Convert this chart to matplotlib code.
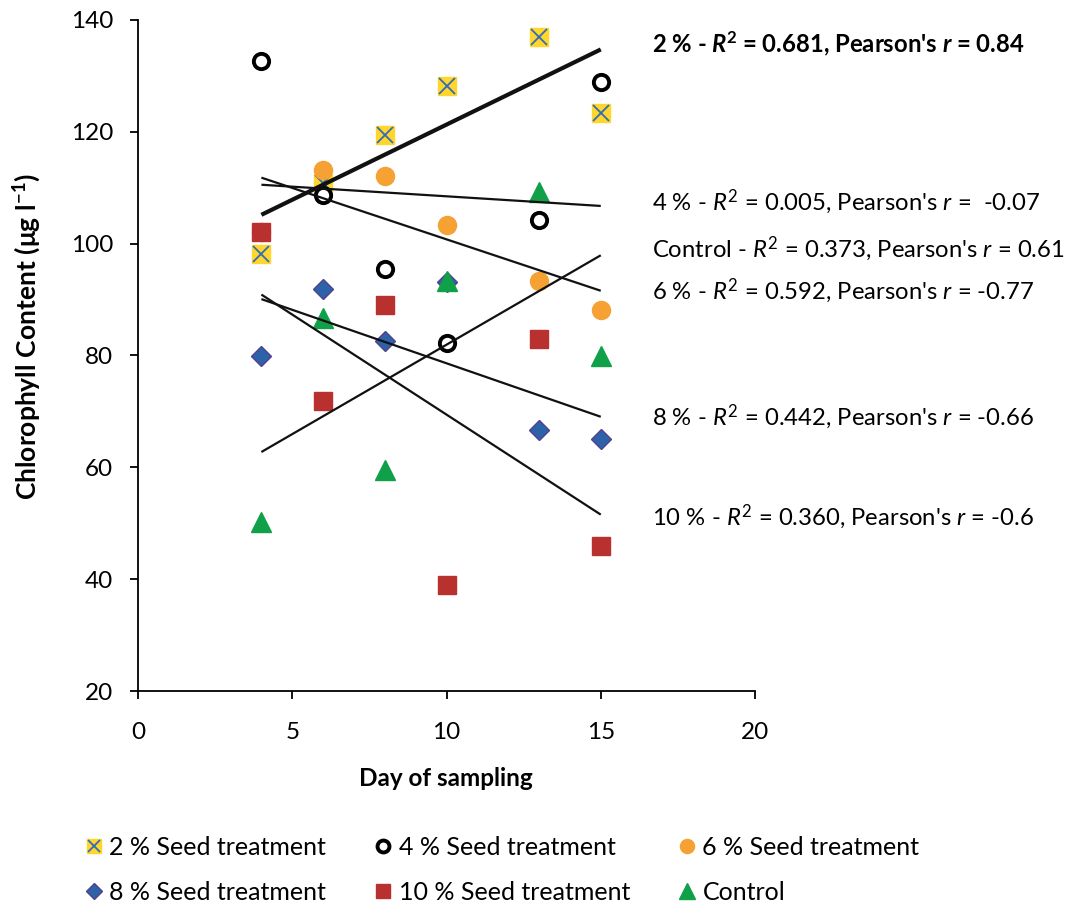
import numpy as np
import matplotlib
matplotlib.use("Agg")
import matplotlib.pyplot as plt

plt.rcParams.update({
    'font.family': ['Lato', 'DejaVu Sans'],
    'mathtext.fontset': 'custom',
    'mathtext.rm': 'Lato',
    'mathtext.it': 'Lato:italic',
    'mathtext.bf': 'Lato:bold',
    'mathtext.bfit': 'Lato:bold:italic',
})

# sampling days and chlorophyll readings (ug/l) per treatment
days = np.array([4, 6, 8, 10, 13, 15])
seed_2 = np.array([98.2, 110.8, 119.4, 128.2, 137.0, 123.4])
seed_4 = np.array([132.7, 108.7, 95.5, 82.2, 104.2, 128.9])
seed_6 = np.array([102.0, 113.2, 112.1, 103.3, 93.3, 88.1])
seed_8 = np.array([79.9, 91.9, 82.6, 93.1, 66.7, 65.1])
seed_10 = np.array([102.1, 71.9, 89.0, 39.0, 83.0, 45.9])
control = np.array([50.2, 86.7, 59.5, 93.3, 109.2, 79.9])

fit_labels = [
    r"2 % - $\mathbfit{R}^\mathbf{2}$ = 0.681, Pearson's $\mathbfit{r}$ = 0.84",
    r"4 % - $\mathit{R}^2$ = 0.005, Pearson's $\mathit{r}$ =  -0.07",
    r"Control - $\mathit{R}^2$ = 0.373, Pearson's $\mathit{r}$ = 0.61",
    r"6 % - $\mathit{R}^2$ = 0.592, Pearson's $\mathit{r}$ = -0.77",
    r"8 % - $\mathit{R}^2$ = 0.442, Pearson's $\mathit{r}$ = -0.66",
    r"10 % - $\mathit{R}^2$ = 0.360, Pearson's $\mathit{r}$ = -0.6",
]
label_y = [44, 202, 249, 291, 417, 517]  # pixel rows from top

W, H = 1073, 905
fig = plt.figure(figsize=(W/100, H/100), dpi=100)
ax = fig.add_axes([138/W, 1 - 691/H, 617/W, 671/H])

gold, blue_x = '#FFD52E', '#2F6DB5'
h2a, = ax.plot(days, seed_2, 's', ms=12.5, color=gold, mec=gold, zorder=3)
h2b, = ax.plot(days, seed_2, 'x', ms=11, color=blue_x, mew=1.3, zorder=3)
h4, = ax.plot(days, seed_4, 'o', ms=11, mfc='white', mec='black', mew=2.8, zorder=3)
h6, = ax.plot(days, seed_6, 'o', ms=13, color='#F5A133', mec='#F5A133', zorder=3)
h8, = ax.plot(days, seed_8, 'D', ms=10, color='#2E62A8', mec='#54418E', mew=1, zorder=3)
h10, = ax.plot(days, seed_10, 's', ms=13, color='#B8312F', mec='#B8312F', zorder=3)
hc, = ax.plot(days, control, '^', ms=14, color='#11A04A', mec='#11A04A', zorder=3)

# linear trend lines over the sampling window
xs = np.array([days.min(), days.max()])
for y, lw in [(seed_2, 3.0), (seed_4, 1.6), (seed_6, 1.6),
              (seed_8, 1.6), (seed_10, 1.6), (control, 1.6)]:
    k, b = np.polyfit(days, y, 1)
    ax.plot(xs, k * xs + b, color='#111111', lw=lw, zorder=4,
            solid_capstyle='butt')

ax.set_xlim(0, 20)
ax.set_ylim(20, 140)
ax.set_xticks(np.arange(0, 21, 5))
ax.set_yticks(np.arange(20, 141, 20))
for s in ['top', 'right']:
    ax.spines[s].set_visible(False)
for s in ['left', 'bottom']:
    ax.spines[s].set_linewidth(1.3)
ax.tick_params(direction='out', length=6, width=1.3, labelsize=17.5)
ax.tick_params(axis='x', pad=16)
ax.tick_params(axis='y', pad=12)

fig.text(446/W, 1 - 778/H, 'Day of sampling', fontsize=17.5,
         fontweight='bold', ha='center', va='center')
fig.text(27/W, 1 - 336/H, r'$\mathbf{Chlorophyll\ Content\ (μg\ l^{-1})}$',
         fontsize=19, rotation=90, ha='center', va='center')

for i, (txt, py) in enumerate(zip(fit_labels, label_y)):
    fig.text(652/W, 1 - py/H, txt, fontsize=17.2, va='center', ha='left',
             fontweight='bold' if i == 0 else 'normal')

handles = [(h2a, h2b), h8, h4, h10, h6, hc]
names = ['2 % Seed treatment', '8 % Seed treatment', '4 % Seed treatment',
         '10 % Seed treatment', '6 % Seed treatment', 'Control']
fig.legend(handles, names, ncol=3, loc='upper left',
           bbox_to_anchor=(63/W, 1 - 813/H), frameon=False,
           fontsize=18, handlelength=0.65, handletextpad=0.3,
           columnspacing=1.95, labelspacing=0.9, markerscale=0.78)

fig.savefig('out.png', dpi=100, facecolor='white')
